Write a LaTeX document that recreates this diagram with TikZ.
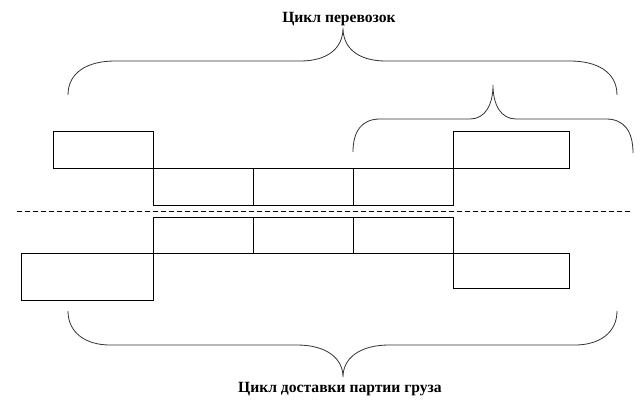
\documentclass[tikz,border=0pt]{standalone}
\usepackage{fontspec}
\setmainfont{Liberation Serif}
\newfontfamily\lblfont{Liberation Serif}[UprightFont={* Bold}]
\begin{document}
\begin{tikzpicture}[x=1pt,y=-1pt,
  box/.style={draw=black, line width=0.9pt, fill=none, inner sep=0pt, anchor=north west},
  brace/.style={draw=black!80, line width=0.8pt},
  sep/.style={draw=black, line width=0.7pt, dash pattern=on 5pt off 3pt},
  lbl/.style={font=\lblfont\fontsize{15.6}{18}\selectfont, inner sep=0pt, anchor=base}]
\useasboundingbox (0,0) rectangle (643,416);
% top row
\node[box, minimum width=100pt, minimum height=37pt] (a) at (53,131) {};
\node[box, minimum width=100pt, minimum height=37pt] (b1) at (153,168) {};
\node[box, minimum width=100pt, minimum height=37pt] (b2) at (253,168) {};
\node[box, minimum width=100pt, minimum height=37pt] (b3) at (353,168) {};
\node[box, minimum width=116pt, minimum height=37pt] (e) at (453,131) {};
% separator
\coordinate (s1) at (17,211);
\coordinate (s2) at (630,211);
\draw[sep] (s1) -- (s2);
% bottom row
\node[box, minimum width=100pt, minimum height=36pt] (c1) at (153,217) {};
\node[box, minimum width=100pt, minimum height=36pt] (c2) at (253,217) {};
\node[box, minimum width=100pt, minimum height=36pt] (c3) at (353,217) {};
\node[box, minimum width=132pt, minimum height=47pt] (d) at (21,253) {};
\node[box, minimum width=116pt, minimum height=35pt] (f) at (453,253) {};
% labels
\node[lbl] (t1) at (339,22.5) {Цикл перевозок};
\node[lbl] (t2) at (340,392.5) {Цикл доставки партии груза};
% top brace
\draw[brace] (68,95) .. controls (68,72) and (88,61) .. (115,61) -- (300,61)
  .. controls (328,61) and (343,48) .. (343,28)
  .. controls (343,48) and (358,61) .. (386,61) -- (570,61)
  .. controls (597,61) and (617,72) .. (617,95);
% small brace
\draw[brace] (353,152) .. controls (353,131) and (362,119) .. (380,119) -- (470,119)
  .. controls (485,119) and (493,105) .. (493,85)
  .. controls (493,105) and (501,119) .. (516,119) -- (606,119)
  .. controls (624,119) and (633,131) .. (633,153);
% bottom brace
\draw[brace] (68,311) .. controls (68,333) and (86,345) .. (110,345) -- (297,345)
  .. controls (326,345) and (343,358) .. (343,377)
  .. controls (343,358) and (360,345) .. (389,345) -- (575,345)
  .. controls (599,345) and (617,333) .. (617,311);
\end{tikzpicture}
\end{document}
